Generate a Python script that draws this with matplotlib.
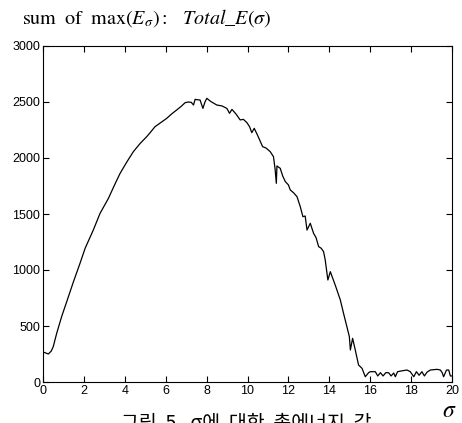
import numpy as np
import matplotlib
matplotlib.use('Agg')
import matplotlib.pyplot as plt

plt.rcParams['mathtext.fontset'] = 'stix'

# sigma values and total energy
sigma = [0.05, 0.15, 0.26, 0.4, 0.5, 0.67, 0.91, 1.16, 1.49, 1.81, 2.06, 2.46, 2.79, 3.2,
         3.5, 3.77, 4.1, 4.42, 4.75, 5.07, 5.3, 5.48, 5.75, 6.05, 6.3, 6.54, 6.75, 6.95,
         7.1, 7.25, 7.36, 7.44, 7.55, 7.68, 7.82, 7.92, 8.01, 8.2, 8.5, 8.75, 8.99, 9.12,
         9.24, 9.45, 9.64, 9.8, 9.97, 10.1, 10.21, 10.33, 10.5, 10.74, 10.9, 11.11, 11.27,
         11.35, 11.41, 11.44, 11.6, 11.72, 11.85, 12.0, 12.09, 12.25, 12.42, 12.58, 12.71,
         12.82, 12.91, 13.07, 13.23, 13.35, 13.48, 13.6, 13.72, 13.8, 13.93, 14.05, 14.3,
         14.54, 14.7, 14.86, 14.98, 15.03, 15.14, 15.27, 15.43, 15.6, 15.76, 15.92, 16.0,
         16.25, 16.37, 16.5, 16.63, 16.76, 16.9, 17.02, 17.15, 17.23, 17.34, 17.56, 17.8,
         17.96, 18.13, 18.26, 18.39, 18.53, 18.65, 18.78, 18.94, 19.27, 19.43, 19.52, 19.59,
         19.73, 19.84, 19.92, 20.0]
total_e = [265, 258, 250, 275, 315, 435, 583, 717, 896, 1060, 1194, 1357, 1506, 1640,
           1760, 1863, 1965, 2057, 2130, 2190, 2240, 2280, 2315, 2354, 2395, 2429, 2460, 2494,
           2500, 2497, 2473, 2524, 2520, 2518, 2443, 2500, 2533, 2505, 2473, 2465, 2443, 2399,
           2434, 2390, 2340, 2345, 2316, 2280, 2226, 2265, 2200, 2101, 2090, 2057, 2012,
           1900, 1774, 1929, 1908, 1840, 1789, 1760, 1715, 1690, 1655, 1566, 1476,
           1482, 1357, 1417, 1328, 1290, 1208, 1195, 1164, 1090, 911, 985, 860,
           732, 610, 494, 405, 286, 390, 286, 152, 122, 47, 83, 92,
           92, 54, 83, 54, 83, 83, 54, 80, 47, 92, 100, 107,
           92, 47, 92, 60, 92, 54, 88, 107, 113, 107, 83, 47,
           107, 107, 54, 54]

x_ticks = list(range(0, 21, 2))
y_ticks = [0, 500, 1000, 1500, 2000, 2500, 3000]

fig = plt.figure(figsize=(4.62, 4.23), dpi=100)
ax = fig.add_axes([43 / 462, 41 / 423, 409 / 462, 336 / 423])
ax.plot(sigma, total_e, color='black', linewidth=0.9)

ax.set_xlim(0, 20)
ax.set_ylim(0, 3000)
ax.set_xticks(x_ticks)
ax.set_yticks(y_ticks)
ax.tick_params(direction='in', top=True, right=True, length=4, width=0.8,
               labelsize=9, pad=2)
for lab in ax.get_xticklabels() + ax.get_yticklabels():
    lab.set_family('Liberation Sans')
for s in ax.spines.values():
    s.set_linewidth(0.8)

fig.text(22 / 462, 1 - 18 / 423,
         r'sum $\;$of $\;\max(E_\sigma):\;\;\; Total\_E(\sigma)$',
         fontsize=14.5, family='STIXGeneral', va='center', ha='left')
fig.text(449 / 462, 1 - 410 / 423, r'$\sigma$', fontsize=17, va='center', ha='center')
fig.text(246 / 462, 1 - 413 / 423, '그림  5.  σ에  대한  총에너지  값',
         fontsize=14, family=['Noto Sans CJK KR', 'DejaVu Sans'], va='top', ha='center')

fig.savefig('out.png', dpi=100)
